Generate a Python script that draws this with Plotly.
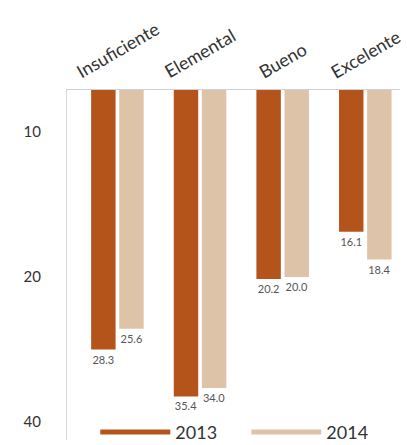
import math
import plotly.graph_objects as go

categories = ["Insuficiente", "Elemental", "Bueno", "Excelente"]
values_2013 = [28.3, 35.4, 20.2, 16.1]
values_2014 = [25.6, 34.0, 20.0, 18.4]
series_names = ["2013", "2014"]
tick_values = [10, 20, 40]
tick_labels = ["10", "20", "40"]

color_2013 = "#B4541B"
color_2014 = "#DDC4A9"

fig = go.Figure()
for name, vals, col in [(series_names[0], values_2013, color_2013),
                        (series_names[1], values_2014, color_2014)]:
    fig.add_trace(go.Bar(
        x=categories, y=vals, name=name, marker_color=col,
        marker_line_width=0,
        text=[f"{v:.1f}" for v in vals], textposition="outside",
        textfont=dict(family="Liberation Sans Narrow, Lato, sans-serif", size=11, color="#555555"),
        cliponaxis=False, showlegend=False,
    ))
    # legend entries drawn as lines
    fig.add_trace(go.Scatter(
        x=[None], y=[None], mode="lines", name=name,
        line=dict(color=col, width=5), showlegend=True,
    ))

# category labels, rotated, centred above each group
for cat in categories:
    fig.add_annotation(
        x=cat, y=1, xref="x", yref="paper", text=cat, showarrow=False,
        textangle=-30, xanchor="center", yanchor="bottom", yshift=5,
        font=dict(family="Lato, sans-serif", size=18, color="#333333"),
    )

fig.update_layout(
    width=407, height=445,
    margin=dict(l=67, r=7, t=90, b=5, autoexpand=False),
    paper_bgcolor="white", plot_bgcolor="white",
    barmode="group", bargap=0.32, bargroupgap=0.13,
    font=dict(family="Lato, Open Sans, sans-serif", color="#333333"),
    legend=dict(orientation="h", x=0.085, y=0.022, xanchor="left", yanchor="middle",
                bgcolor="rgba(0,0,0,0)", font=dict(size=18, color="#333333"),
                itemwidth=70, entrywidth=66, tracegroupgap=0),
    xaxis=dict(side="top", showticklabels=False, showline=True, linecolor="#C9D3DE",
               linewidth=1, ticks="", automargin=False,
               range=[-0.61, 3.42], showgrid=False, mirror=False),
    yaxis=dict(type="log", range=[math.log10(43.6), math.log10(8.18)],
               tickvals=tick_values, ticktext=tick_labels, showgrid=False,
               showline=True, linecolor="#D8D8D8", linewidth=1, ticks="",
               tickfont=dict(size=15, color="#333333"), ticklabelstandoff=22,
               zeroline=False, automargin=False),
)

fig.write_html("out.html", config={"displayModeBar": False},
               post_script="document.body.style.margin='0';")
